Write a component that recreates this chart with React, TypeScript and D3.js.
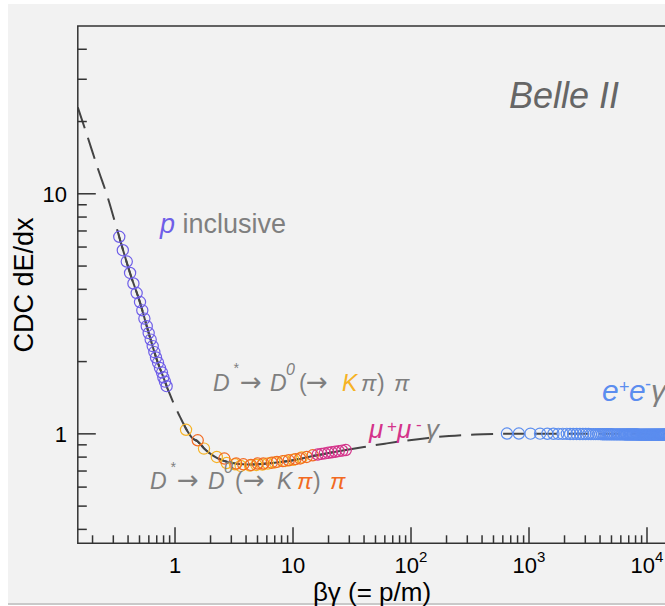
import React from "react";
import * as d3 from "d3";

// ---- data ----
const protonX = [0.337, 0.361, 0.39, 0.416, 0.444, 0.473, 0.505, 0.528, 0.55, 0.576, 0.598, 0.622, 0.647, 0.668, 0.69, 0.718, 0.746, 0.776, 0.796, 0.822, 0.849];
const protonY = [6.62, 5.82, 5.22, 4.68, 4.23, 3.86, 3.54, 3.27, 3.02, 2.81, 2.63, 2.47, 2.32, 2.19, 2.08, 1.98, 1.88, 1.8, 1.72, 1.65, 1.58];

const kaonX = [1.24, 1.76, 2.26, 2.74, 3.22, 3.6, 4.32, 4.9, 5.5, 6.12, 7.0, 8.57, 10.06, 11.85];
const kaonY = [1.04, 0.868, 0.801, 0.756, 0.747, 0.735, 0.738, 0.742, 0.745, 0.752, 0.76, 0.771, 0.78, 0.797];

const pionX = [1.557, 2.62, 3.3, 3.79, 4.4, 5.02, 5.6, 6.6, 7.31, 8.2, 9.2, 10.5, 11.5, 13.07, 14.7];
const pionY = [0.94, 0.789, 0.752, 0.747, 0.742, 0.752, 0.752, 0.758, 0.764, 0.77, 0.776, 0.785, 0.79, 0.801, 0.814];

const muonX = [16.2, 17.4, 18.6, 19.9, 21.3, 22.8, 24.4, 26.1, 28.0];
const muonY = [0.82, 0.825, 0.829, 0.834, 0.838, 0.842, 0.847, 0.851, 0.856];

const elecX = [650, 820, 1030, 1240, 1430, 1610, 1770, 1930, 2090, 2230, 2370, 2530, 2700, 2860, 3020, 3190, 3350, 3520, 3680, 3850, 4010, 4180, 4340, 4510, 4670, 4840, 5000, 5170, 5330, 5500, 5660, 5830, 5990, 6160, 6320, 6490, 6650, 6820, 6980, 7150, 7310, 7480, 7640, 7810, 7970, 8140, 8300, 8470, 8630, 8800, 8960, 9130, 9290, 9460, 9620, 9790, 9950, 10120, 10280, 10450, 10610, 10780, 10940, 11110, 11270, 11440, 11600, 11770, 11930, 12100, 12260, 12430, 12590, 12760, 12920, 13090, 13250, 13420, 13580, 13750, 13910, 14080, 14240];
const elecY = [1.003, 1.003, 1.002, 1.002, 1.001, 1.001, 1.0, 1.0, 1.0, 0.999, 0.999, 0.999, 0.998, 0.998, 0.998, 0.998, 0.997, 0.997, 0.997, 0.997, 0.997, 0.996, 0.996, 0.996, 0.996, 0.996, 0.996, 0.995, 0.995, 0.995, 0.995, 0.995, 0.995, 0.995, 0.995, 0.994, 0.994, 0.994, 0.994, 0.994, 0.994, 0.994, 0.994, 0.994, 0.994, 0.994, 0.994, 0.993, 0.993, 0.993, 0.993, 0.993, 0.993, 0.993, 0.993, 0.993, 0.993, 0.993, 0.993, 0.993, 0.993, 0.993, 0.993, 0.993, 0.993, 0.993, 0.993, 0.993, 0.993, 0.993, 0.993, 0.993, 0.993, 0.993, 0.993, 0.993, 0.993, 0.993, 0.993, 0.993, 0.993, 0.993, 0.993];

const curveX = [0.15, 0.18, 0.22, 0.27, 0.32, 0.36, 0.42, 0.5, 0.6, 0.7, 0.8, 0.9, 1.0, 1.1, 1.24, 1.4, 1.56, 1.76, 2.0, 2.26, 2.6, 3.0, 3.5, 4.0, 4.5, 5.0, 6.0, 7.0, 8.5, 10, 12, 15, 20, 28, 40, 60, 90, 140, 210, 350, 600, 1000, 3000, 10000, 100000];
const curveY = [22.9, 17.5, 12.9, 9.6, 7.2, 5.9, 4.6, 3.58, 2.62, 2.04, 1.71, 1.47, 1.3, 1.18, 1.05, 0.96, 0.93, 0.87, 0.825, 0.795, 0.772, 0.757, 0.749, 0.746, 0.746, 0.747, 0.752, 0.758, 0.767, 0.777, 0.79, 0.81, 0.832, 0.857, 0.882, 0.91, 0.937, 0.962, 0.98, 0.994, 1.0, 1.002, 1.002, 1.0, 1.0];

const xMajorValues = [1, 10, 100, 1000, 10000];
const xMajorBase = ["1", "10", "10", "10", "10"];
const xMajorExp = ["", "", "2", "3", "4"];
const yMajorValues = [1, 10];
const yMajorLabels = ["1", "10"];

const FONT = "'Liberation Sans', Arial, 'DejaVu Sans', sans-serif";
const ARROW_FONT = "'DejaVu Sans', sans-serif";
const GRAY = "#7f7f7f";
const C_P = "#6f5fe8";
const C_K = "#f6b325";
const C_PI = "#f26a22";
const C_MU = "#d4338a";
const C_E = "#5b8def";

export default function App() {
  const W = 665, H = 606;
  const L = 77.8, T = 26, B = 543.3, R = 765;
  const x = d3.scaleLog().domain([0.15, 1e5]).range([L, R]);
  const y = d3.scaleLog().domain([0.35, 50]).range([B, T]);

  const pts = curveX.map((v, i) => [x(v), y(curveY[i])] as [number, number]);
  const line = d3.line().curve(d3.curveMonotoneX)(pts) || "";

  const xt = x.ticks();
  const yt = y.ticks();
  const isMajor = (v: number) => Math.abs(Math.log10(v) - Math.round(Math.log10(v))) < 1e-6;

  const series = [
    { xs: protonX, ys: protonY, c: C_P },
    { xs: kaonX, ys: kaonY, c: C_K },
    { xs: pionX, ys: pionY, c: C_PI },
    { xs: muonX, ys: muonY, c: C_MU },
    { xs: elecX, ys: elecY, c: C_E },
  ];

  const arrow = (ax: number, key: string) => (
    <tspan key={key} x={ax} fontStyle="normal" fontFamily={ARROW_FONT} fontSize={26}>→</tspan>
  );

  return (
    <svg width={W} height={H} style={{ position: "absolute", left: 0, top: 0, background: "#fff" }} fontFamily={FONT}>
      <defs>
        <clipPath id="plot"><rect x={L} y={T} width={W - L} height={B - T} /></clipPath>
        <clipPath id="solid">
          <rect x={x(0.33)} y={T} width={x(0.87) - x(0.33)} height={B - T} />
          <rect x={x(1.2)} y={T} width={x(29) - x(1.2)} height={B - T} />
        </clipPath>
      </defs>
      <rect x={8} y={4} width={W - 8} height={599} fill="#f2f2f2" />
      <rect x={8} y={603} width={W - 8} height={2} fill="#c9c9c9" />

      <g clipPath="url(#plot)">
        <path d={line} fill="none" stroke="#444" strokeWidth={2} strokeDasharray="22 10" />
        <path d={line} fill="none" stroke="#444" strokeWidth={2} clipPath="url(#solid)" />
        {series.map((s, si) =>
          s.xs.map((v, i) => (
            <circle key={si + "-" + i} cx={x(v)} cy={y(s.ys[i])} r={5.6} fill="none" stroke={s.c} strokeWidth={1.2} />
          ))
        )}
      </g>

      {/* frame */}
      <path d={`M${W + 5},${T} H${L} V${B} H${W + 5}`} fill="none" stroke="#333" strokeWidth={1.5} />
      {xt.filter((v) => x(v) > L + 1 && x(v) < W + 2).map((v, i) => (
        <line key={"xt" + i} x1={x(v)} x2={x(v)} y1={B} y2={B - (isMajor(v) ? 16 : 8)} stroke="#333" strokeWidth={1.5} />
      ))}
      {yt.filter((v) => y(v) < B - 1 && y(v) > T + 1).map((v, i) => (
        <line key={"yt" + i} x1={L} x2={L + (isMajor(v) ? 18 : 9)} y1={y(v)} y2={y(v)} stroke="#333" strokeWidth={1.5} />
      ))}

      {/* tick labels */}
      {xMajorValues.map((v, i) => (
        <text key={"xl" + i} x={x(v)} y={572.5} fontSize={22} textAnchor="middle" fill="#000">
          {xMajorBase[i]}
          {xMajorExp[i] && <tspan dy={-11} fontSize={15}>{xMajorExp[i]}</tspan>}
        </text>
      ))}
      {yMajorValues.map((v, i) => (
        <text key={"yl" + i} x={67} y={y(v) + 8} fontSize={22} textAnchor="end" fill="#000">{yMajorLabels[i]}</text>
      ))}

      {/* axis titles */}
      <text x={372} y={601} fontSize={26} textAnchor="middle" fill="#000">βγ (= p/m)</text>
      <text transform="translate(33,285) rotate(-90)" fontSize={27} textAnchor="middle" fill="#000">CDC dE/dx</text>

      {/* labels */}
      <text x={509} y={108} fontSize={36} fontStyle="italic" fill="#666">Belle II</text>
      <text x={160} y={233} fontSize={27} fill={GRAY}>
        <tspan fill={C_P} fontStyle="italic">p</tspan> inclusive
      </text>

      <g fontStyle="italic" fill={GRAY}>
        <text y={391} fontSize={23}>
          <tspan x={213}>D</tspan>
          {arrow(240, "a1")}
          <tspan x={270}>D</tspan>
          <tspan x={299} fontStyle="normal">(</tspan>
          {arrow(306, "a2")}
          <tspan x={342} fill={C_K}>K</tspan>
          <tspan x={361}>π</tspan>
          <tspan x={377} fontStyle="normal">)</tspan>
          <tspan x={394}>π</tspan>
        </text>
        <text x={233} y={373} fontSize={14}>*</text>
        <text x={286} y={375} fontSize={16}>0</text>

        <text y={489} fontSize={23}>
          <tspan x={150}>D</tspan>
          {arrow(177, "b1")}
          <tspan x={208}>D</tspan>
          <tspan x={235} fontStyle="normal">(</tspan>
          {arrow(243, "b2")}
          <tspan x={277}>K</tspan>
          <tspan x={297} fill={C_PI}>π</tspan>
          <tspan x={313} fontStyle="normal">)</tspan>
          <tspan x={330} fill={C_PI}>π</tspan>
        </text>
        <text x={170} y={472} fontSize={14}>*</text>
        <text x={224} y={473} fontSize={16}>0</text>

        <text y={438} fontSize={26}>
          <tspan x={369} fill={C_MU}>μ</tspan>
          <tspan x={397} fill={C_MU}>μ</tspan>
          <tspan x={426}>γ</tspan>
        </text>
        <text x={387} y={432} fontSize={17} fill={C_MU} fontStyle="normal">+</text>
        <text x={416} y={430} fontSize={17} fill={C_MU} fontStyle="normal">-</text>

        <text y={401} fontSize={30}>
          <tspan x={602} fill={C_E}>e</tspan>
          <tspan x={629} fill={C_E}>e</tspan>
          <tspan x={651}>γ</tspan>
        </text>
        <text x={619} y={393} fontSize={18} fill={C_E} fontStyle="normal">+</text>
        <text x={645} y={390} fontSize={18} fill={C_E} fontStyle="normal">-</text>
      </g>
    </svg>
  );
}
